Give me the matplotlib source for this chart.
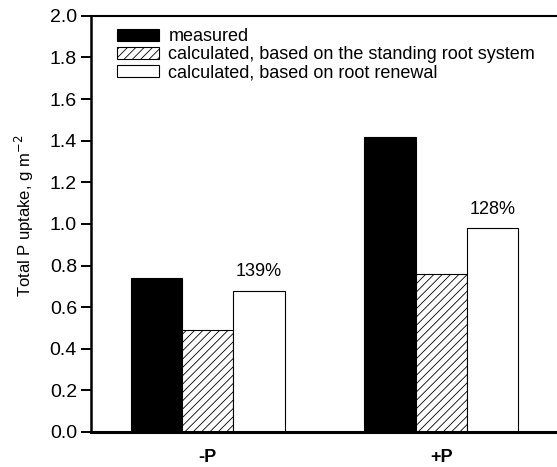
import numpy as np
import matplotlib
matplotlib.use('Agg')
import matplotlib.pyplot as plt

plt.rcParams['font.family'] = ['Liberation Sans', 'DejaVu Sans']
plt.rcParams['hatch.linewidth'] = 0.6

# data
treatments = ['-P', '+P']
measured = [0.74, 1.42]
calc_standing = [0.49, 0.76]
calc_renewal = [0.68, 0.98]
renewal_pct = ['139%', '128%']
series_labels = ['measured',
                 'calculated, based on the standing root system',
                 'calculated, based on root renewal']

fig = plt.figure(figsize=(5.57, 4.67), dpi=100)
ax = fig.add_axes([0.163, 0.075, 0.835, 0.891])

x = np.arange(len(treatments))
w = 0.22

ax.bar(x - w, measured, w, color='black', edgecolor='black', linewidth=0.8,
       label=series_labels[0])
ax.bar(x, calc_standing, w, color='white', edgecolor='black', linewidth=0.8,
       hatch='////', label=series_labels[1])
bars = ax.bar(x + w, calc_renewal, w, color='white', edgecolor='black',
              linewidth=0.8, label=series_labels[2])

for b, txt in zip(bars, renewal_pct):
    ax.text(b.get_x() + b.get_width() / 2, b.get_height() + 0.05, txt,
            ha='center', va='bottom', fontsize=13)

ax.set_xlim(-0.5, 1.49)
ax.set_ylim(0, 2.0)
ax.set_yticks(np.arange(0, 2.01, 0.2))
ax.set_yticklabels(['%.1f' % v for v in np.arange(0, 2.01, 0.2)], fontsize=14)
ax.set_xticks(x)
ax.set_xticklabels(treatments, fontsize=13, fontweight='bold')
ax.tick_params(axis='x', length=0, pad=12)
ax.tick_params(axis='y', direction='out', length=7, width=1.4, pad=3)
ax.set_ylabel('Total P uptake, g m$^{-2}$', fontsize=12)
ax.yaxis.set_label_coords(-0.117, 0.52)

ax.spines['right'].set_visible(False)
ax.spines['left'].set_linewidth(1.8)
ax.spines['bottom'].set_linewidth(2.2)
ax.spines['top'].set_linewidth(1.5)

ax.legend(loc='upper left', bbox_to_anchor=(0.037, 0.992), frameon=False,
          fontsize=13, handlelength=2.3, handleheight=0.65,
          labelspacing=0.05, handletextpad=0.55, borderpad=0.0)

fig.savefig('out.png', dpi=100)
